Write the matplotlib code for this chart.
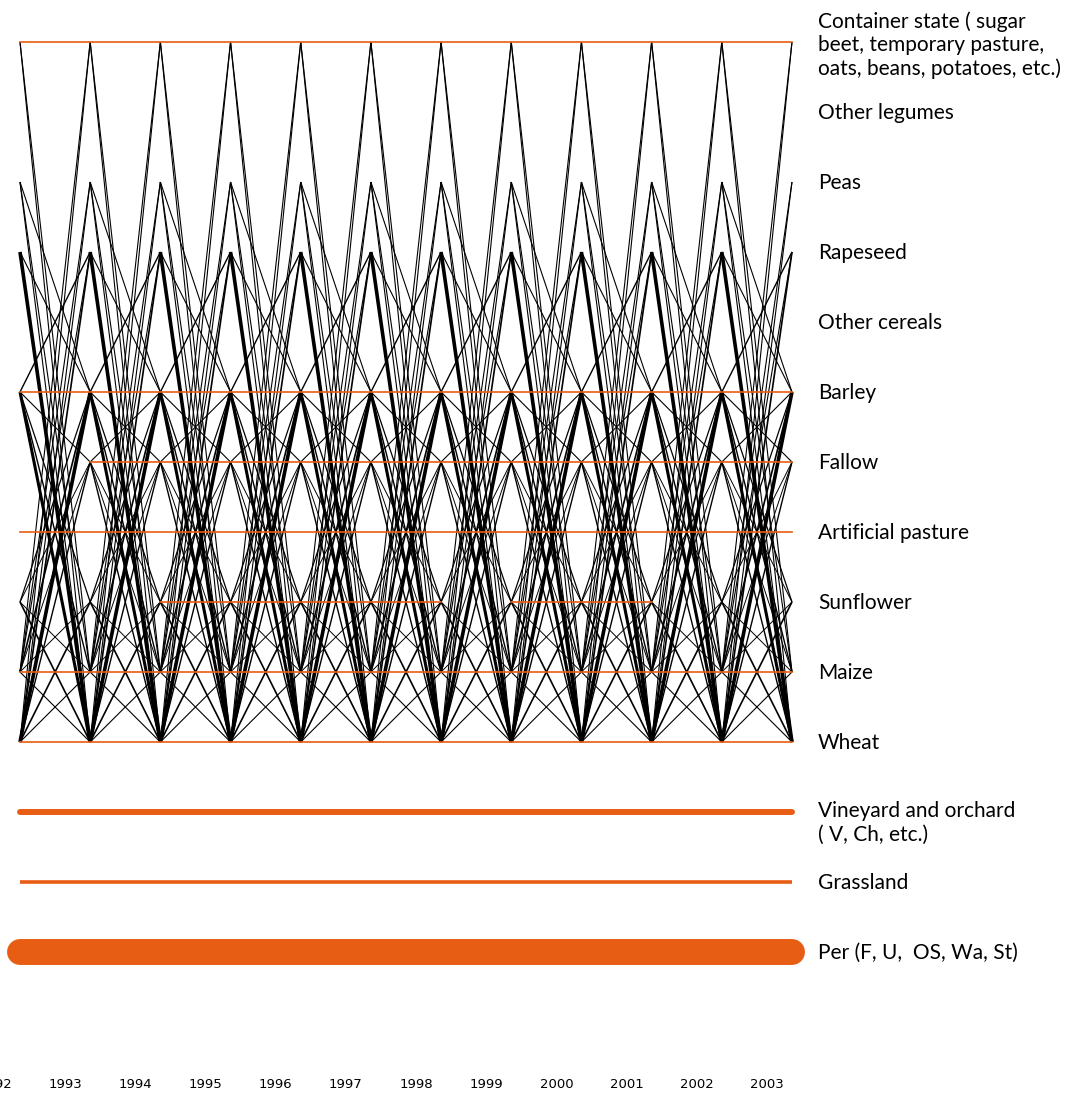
import matplotlib
matplotlib.use("Agg")
import matplotlib.pyplot as plt

# crop rows, top to bottom
rows = ["Container state ( sugar\nbeet, temporary pasture,\noats, beans, potatoes, etc.)",
        "Other legumes", "Peas", "Rapeseed", "Other cereals", "Barley", "Fallow",
        "Artificial pasture", "Sunflower", "Maize", "Wheat",
        "Vineyard and orchard\n( V, Ch, etc.)", "Grassland", "Per (F, U,  OS, Wa, St)"]
short = ["Container", "Other legumes", "Peas", "Rapeseed", "Other cereals", "Barley",
         "Fallow", "Artificial pasture", "Sunflower", "Maize", "Wheat",
         "Vineyard", "Grassland", "Per"]
years = list(range(1992, 2004))

# year-to-year transitions (from, to, line weight), same pattern every year
transitions = [
    ("Container", "Wheat", 0.8), ("Container", "Maize", 0.8),
    ("Wheat", "Container", 0.8), ("Maize", "Container", 0.8),
    ("Peas", "Wheat", 0.8), ("Peas", "Maize", 0.8),
    ("Wheat", "Peas", 0.8), ("Maize", "Peas", 0.8),
    ("Rapeseed", "Wheat", 2.6), ("Rapeseed", "Barley", 0.8),
    ("Barley", "Rapeseed", 1.0), ("Wheat", "Rapeseed", 1.2), ("Maize", "Rapeseed", 0.8),
    ("Wheat", "Barley", 2.6), ("Barley", "Wheat", 2.2),
    ("Barley", "Maize", 1.0), ("Barley", "Sunflower", 0.9), ("Barley", "Fallow", 0.8),
    ("Maize", "Barley", 1.2), ("Sunflower", "Barley", 0.9),
    ("Fallow", "Wheat", 1.0), ("Wheat", "Fallow", 1.0), ("Fallow", "Barley", 0.8),
    ("Wheat", "Sunflower", 1.2), ("Sunflower", "Wheat", 1.2),
    ("Sunflower", "Maize", 0.7), ("Maize", "Sunflower", 0.7),
    ("Maize", "Wheat", 0.8), ("Wheat", "Maize", 0.8),
    ("Fallow", "Sunflower", 0.7), ("Sunflower", "Fallow", 0.7),
    ("Maize", "Fallow", 0.7), ("Fallow", "Maize", 0.7), ("Peas", "Barley", 0.8),
]
first_year = {"Fallow": 1993}

# same crop kept (orange): (crop, from, to)
kept = [("Container", 1992, 2003), ("Barley", 1992, 2003), ("Fallow", 1993, 2003),
        ("Artificial pasture", 1992, 2003), ("Sunflower", 1994, 1998),
        ("Sunflower", 1999, 2001), ("Maize", 1992, 2003), ("Wheat", 1992, 2003)]
bands = [("Vineyard", 4.3, "round"), ("Grassland", 2.6, "butt"), ("Per", 18.7, "round")]

orange = "#E85D14"
W, H = 1076, 1097
fig = plt.figure(figsize=(W / 100, H / 100), dpi=100)
ax = fig.add_axes([0, 0, 1, 1])
step = 70.18
ax.set_xlim(1992 - 20 / step, 1992 + (W - 20) / step)
ax.set_ylim((H - 42) / 70, -42 / 70)
ax.axis("off")

r = {n: i for i, n in enumerate(short)}

for a, b, lw in transitions:
    for y0 in years[:-1]:
        if y0 < first_year.get(a, 1992) or y0 + 1 < first_year.get(b, 1992):
            continue
        ax.plot([y0, y0 + 1], [r[a], r[b]], color="black", lw=lw,
                solid_capstyle="butt", zorder=2)

for c, y0, y1 in kept:
    ax.plot([y0, y1], [r[c], r[c]], color=orange, lw=1.2, zorder=3)

for c, lw, cap in bands:
    ax.plot([years[0], years[-1]], [r[c], r[c]], color=orange, lw=lw,
            solid_capstyle=cap, zorder=3)

label_x = 1992 + 798 / step
offsets = {0: 3 / 70, 11: 11 / 70}
for i, name in enumerate(rows):
    ax.text(label_x, i + offsets.get(i, 1 / 70), name, ha="left", va="center",
            fontsize=15, family="Lato", linespacing=1.2, color="black")

# year labels sit a bit left of their nodes, first one runs off the edge
for y in years:
    ax.text(y - 25 / step, (1085 - 42) / 70, str(y), ha="center", va="center",
            fontsize=9.5, family="DejaVu Sans", color="black")

fig.savefig("out.png", dpi=100, facecolor="white")
